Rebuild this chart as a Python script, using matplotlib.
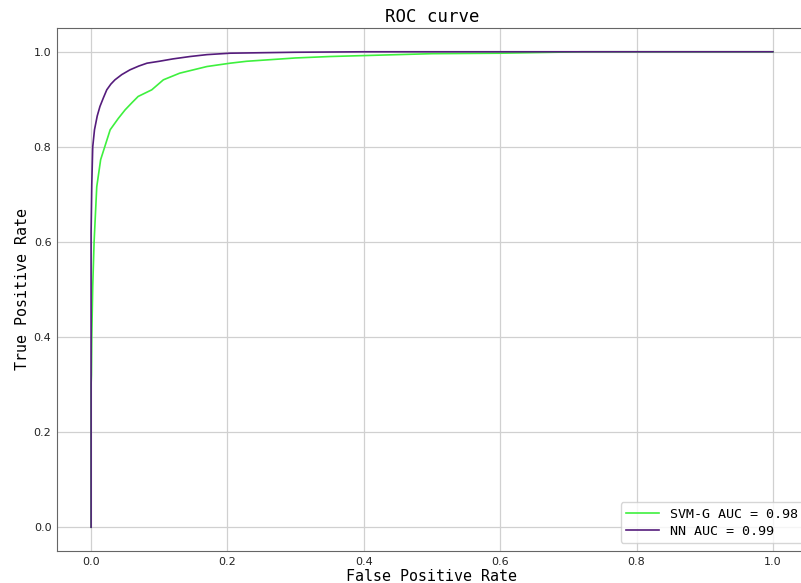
import matplotlib
matplotlib.use("Agg")
import matplotlib.pyplot as plt

# ROC points
svm_fpr = [0, 0, 0.0005, 0.001, 0.0024, 0.0044, 0.0083, 0.014, 0.02, 0.028, 0.04, 0.05,
           0.06, 0.069, 0.089, 0.106, 0.13, 0.17, 0.204, 0.228, 0.3, 0.35, 0.4, 0.5,
           0.6, 0.72, 0.8, 1.0]
svm_tpr = [0, 0.30, 0.32, 0.40, 0.506, 0.60, 0.716, 0.773, 0.80, 0.836, 0.86, 0.878,
           0.893, 0.906, 0.92, 0.941, 0.955, 0.969, 0.976, 0.98, 0.987, 0.99, 0.992, 0.996,
           0.997, 1.0, 1.0, 1.0]

nn_fpr = [0, 0, 0.001, 0.0024, 0.005, 0.009, 0.013, 0.018, 0.023, 0.029, 0.035, 0.045,
          0.057, 0.07, 0.082, 0.1, 0.12, 0.145, 0.17, 0.204, 0.25, 0.3, 0.4, 0.6, 0.8, 1.0]
nn_tpr = [0, 0.62, 0.72, 0.80, 0.836, 0.865, 0.885, 0.903, 0.92, 0.932, 0.941, 0.952,
          0.962, 0.970, 0.976, 0.980, 0.985, 0.990, 0.994, 0.997, 0.998, 0.999, 1.0, 1.0,
          1.0, 1.0]

labels = ["SVM-G AUC = 0.98", "NN AUC = 0.99"]
xticks = [0.0, 0.2, 0.4, 0.6, 0.8, 1.0]
yticks = [0.0, 0.2, 0.4, 0.6, 0.8, 1.0]

mono = "DejaVu Sans Mono"

fig = plt.figure(figsize=(8.01, 5.83), dpi=100)
# axes run a little past the right edge, like the cropped original
ax = fig.add_axes([57 / 801, 32 / 583, 750 / 801, 523 / 583])

ax.plot(svm_fpr, svm_tpr, color="#3ef03e", lw=1.2, label=labels[0])
ax.plot(nn_fpr, nn_tpr, color="#551c7c", lw=1.2, label=labels[1])

ax.set_xlim(-0.05, 1.05)
ax.set_ylim(-0.05, 1.05)
ax.set_xticks(xticks)
ax.set_yticks(yticks)
ax.tick_params(length=0, pad=4, labelsize=8, colors="#222222")
ax.grid(True, color="#d0d0d0", lw=0.9)
ax.set_axisbelow(True)
for s in ax.spines.values():
    s.set_color("#666666")

ax.set_title("ROC curve", family=mono, fontsize=12.5, pad=4)
ax.set_xlabel("False Positive Rate", family=mono, fontsize=10.8, labelpad=2)
ax.set_ylabel("True Positive Rate", family=mono, fontsize=10.8, labelpad=3)

ax.legend(loc="lower right", bbox_to_anchor=(0.995, 0.015), borderaxespad=0,
          prop={"family": mono, "size": 9.6}, labelspacing=0.3, handlelength=2.5)

fig.savefig("out.png", dpi=100)
